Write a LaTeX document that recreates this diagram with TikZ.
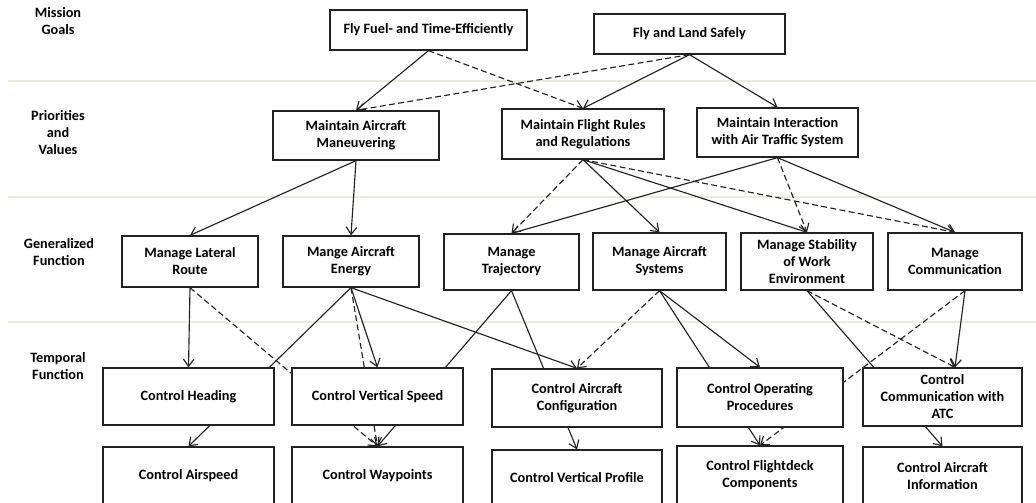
\documentclass[tikz,border=0pt]{standalone}
\usepackage{fontspec}
\setmainfont{Carlito}
\usetikzlibrary{arrows.meta,calc}
\pgfdeclarelayer{bg}
\pgfsetlayers{bg,main}
\definecolor{rulegray}{RGB}{234,234,224}
\definecolor{ink}{RGB}{34,34,34}
\newcommand\lbl{\fontsize{10.7pt}{12.75pt}\selectfont\bfseries}
\tikzset{
  box/.style={draw=ink, line width=1pt, fill=white, align=center, inner sep=0pt, font=\lbl},
  lvl/.style={align=center, inner sep=0pt, font=\lbl},
  link/.style={draw=ink, line width=0.85pt},
  arr/.style={link, -{Straight Barb[length=5.5pt,width=8pt]}},
  dsh/.style={dash pattern=on 4.5pt off 2.5pt},
  sep/.style={draw=rulegray, line width=1.4pt}
}
% \mkbox{name}{left}{top}{right}{bottom}{text}, all in pixel units
\newcommand\mkbox[6]{%
  \node[box, minimum width={(#4-#2)*0.75pt}, minimum height={(#5-#3)*0.75pt}]
    (#1) at ({(#2+#4)/2},{(#3+#5)/2}) {#6};}
\begin{document}
\begin{tikzpicture}[x=0.75pt,y=-0.75pt]
\useasboundingbox (0,0) rectangle (1036,503);
\clip (0,0) rectangle (1036,503);

% level titles
\node[lvl] (lmg) at (58,21) {Mission\\Goals};
\node[lvl] (lpv) at (58,133) {Priorities\\and\\Values};
\node[lvl] (lgf) at (59,252) {Generalized\\Function};
\node[lvl] (ltf) at (58,366) {Temporal\\Function};

% mission goals
\mkbox{fuel}{330}{10}{527}{50}{Fly Fuel- and Time-Efficiently}
\mkbox{safe}{594}{14}{785}{54}{Fly and Land Safely}

% priorities and values
\mkbox{maneuv}{273}{111}{439}{160}{Maintain Aircraft\\Maneuvering}
\mkbox{rules}{502}{109}{664}{159}{Maintain Flight Rules\\and Regulations}
\mkbox{inter}{697}{108}{858}{157}{Maintain Interaction\\with Air Traffic System}

% generalized functions
\mkbox{lateral}{122}{236}{258}{287}{Manage Lateral\\Route}
\mkbox{energy}{283}{236}{419}{287}{Mange Aircraft\\Energy}
\mkbox{traj}{444}{234}{579}{290}{Manage\\Trajectory}
\mkbox{systems}{593}{233}{726}{290}{Manage Aircraft\\Systems}
\mkbox{stab}{741}{233}{873}{290}{Manage Stability\\of Work\\Environment}
\mkbox{comm}{888}{233}{1022}{290}{Manage\\Communication}

% temporal functions
\mkbox{heading}{103}{368}{274}{425}{Control Heading}
\mkbox{vspeed}{292}{368}{463}{425}{Control Vertical Speed}
\mkbox{config}{492}{369}{662}{427}{Control Aircraft\\Configuration}
\mkbox{procedures}{677}{368}{843}{427}{Control Operating\\Procedures}
\mkbox{atc}{863}{368}{1022}{426}{Control\\Communication with\\ATC}

\mkbox{airspeed}{103}{447}{274}{505}{Control Airspeed}
\mkbox{waypoints}{292}{447}{463}{505}{Control Waypoints}
\mkbox{vprofile}{492}{450}{662}{505}{Control Vertical Profile}
\mkbox{flightdeck}{677}{446}{843}{505}{Control Flightdeck\\Components}
\mkbox{info}{863}{447}{1022}{505}{Control Aircraft\\Information}

\coordinate (atcin) at ($(atc.north)+(12.5,0)$);
\coordinate (commout) at ($(comm.south)+(10,0)$);

\begin{pgfonlayer}{bg}
\fill[white] (0,0) rectangle (1036,503);
% level separators
\draw[sep] (8,81) -- (1036,81);
\draw[sep] (8,197) -- (1036,197);
\draw[sep] (8,322) -- (1036,322);

% goals to priorities
\draw[arr] (fuel.south) -- (maneuv.north);
\draw[arr,dsh] (fuel.south) -- (rules.north);
\draw[arr,dsh] (safe.south) -- (maneuv.north);
\draw[arr] (safe.south) -- (rules.north);
\draw[arr] (safe.south) -- (inter.north);

% priorities to generalized functions
\draw[arr] (maneuv.south) -- (lateral.north);
\draw[arr] (maneuv.south) -- (energy.north);
\draw[arr,dsh] (rules.south) -- (traj.north);
\draw[arr] (rules.south) -- (systems.north);
\draw[arr] (rules.south) -- (stab.north);
\draw[arr,dsh] (rules.south) -- (comm.north);
\draw[arr] (inter.south) -- (traj.north);
\draw[arr,dsh] (inter.south) -- (stab.north);
\draw[arr] (inter.south) -- (comm.north);

% generalized to temporal functions
\draw[arr] (lateral.south) -- (heading.north);
\draw[arr,dsh] (lateral.south) -- (waypoints.north);
\draw[arr] (energy.south) -- (airspeed.north);
\draw[arr,dsh] (energy.south) -- (waypoints.north);
\draw[arr] (energy.south) -- (vspeed.north);
\draw[arr] (energy.south) -- (config.north);
\draw[arr] (traj.south) -- (waypoints.north);
\draw[arr] (traj.south) -- (vprofile.north);
\draw[arr,dsh] (systems.south) -- (config.north);
\draw[arr] (systems.south) -- (flightdeck.north);
\draw[arr] (systems.south) -- (procedures.north);
\draw[arr] (stab.south) -- (info.north);
\draw[arr,dsh] (stab.south) -- (atcin);
\draw[arr] (commout) -- (atcin);
\draw[arr,dsh] (commout) -- (flightdeck.north);
\end{pgfonlayer}
\end{tikzpicture}
\end{document}
